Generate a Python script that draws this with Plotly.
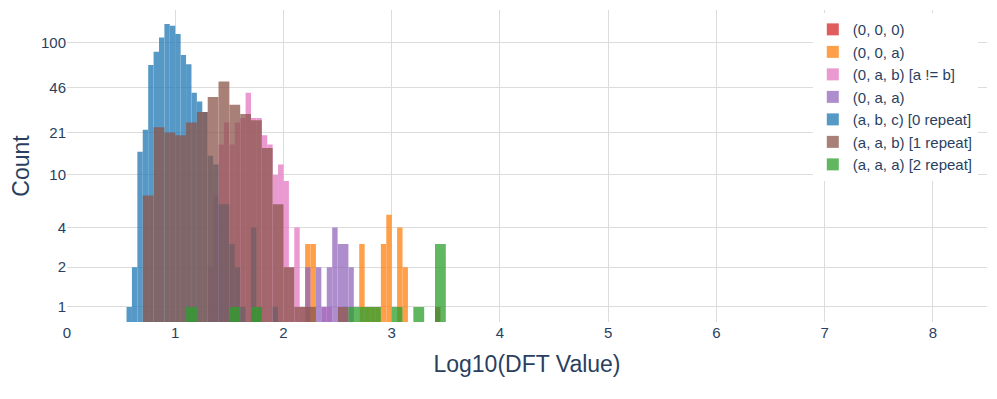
import plotly.graph_objects as go

# Histogram bins: left edge of each bin and its count
zero_zero_zero_bins = [3.40]
zero_zero_zero_counts = [1]

zero_zero_a_bins = [2.20, 2.25, 2.70, 2.75, 2.80, 2.85, 2.90, 2.95, 3.05, 3.10]
zero_zero_a_counts = [3, 3, 3, 1, 1, 1, 3, 5, 4, 2]

zero_a_b_bins = [1.30, 1.35, 1.40, 1.45, 1.50, 1.55, 1.60, 1.65, 1.70, 1.75,
                 1.80, 1.85, 1.90, 1.95, 2.00, 2.05, 2.10, 2.15, 2.35, 2.40]
zero_a_b_counts = [2, 7, 17, 25, 17, 25, 27, 42, 27, 27,
                   20, 17, 10, 12, 9, 2, 4, 1, 1, 1]

zero_a_a_bins = [2.20, 2.30, 2.35, 2.40, 2.45, 2.50, 2.55, 2.60]
zero_a_a_counts = [2, 2, 1, 2, 4, 3, 3, 2]

abc_bins = [0.55, 0.60, 0.65, 0.70, 0.75, 0.80, 0.85, 0.90, 0.95, 1.00,
            1.05, 1.10, 1.15, 1.20, 1.25, 1.30, 1.35, 1.40, 1.45, 1.50,
            1.55, 1.60, 1.70, 1.75, 1.90]
abc_counts = [1, 2, 15, 22, 68, 86, 110, 139, 135, 117,
              81, 69, 42, 36, 30, 14, 12, 6, 6, 3,
              2, 1, 4, 1, 1]

aab_bins = [0.7, 0.8, 0.9, 1.0, 1.1, 1.2, 1.3, 1.4, 1.5, 1.6,
            1.7, 1.8, 1.9, 2.0, 2.1, 2.2, 2.5]
aab_counts = [7, 23, 21, 20, 25, 30, 39, 51, 34, 29,
              26, 16, 6, 2, 1, 1, 1]

aaa_bins = [1.1, 1.5, 1.7, 2.6, 2.7, 2.8, 3.0, 3.2, 3.4]
aaa_counts = [1, 1, 1, 1, 1, 1, 1, 1, 3]

series = [
    ("(0, 0, 0)", zero_zero_zero_bins, zero_zero_zero_counts, 0.05, "#d62728"),
    ("(0, 0, a)", zero_zero_a_bins, zero_zero_a_counts, 0.05, "#ff7f0e"),
    ("(0, a, b) [a != b]", zero_a_b_bins, zero_a_b_counts, 0.05, "#e377c2"),
    ("(0, a, a)", zero_a_a_bins, zero_a_a_counts, 0.05, "#9467bd"),
    ("(a, b, c) [0 repeat]", abc_bins, abc_counts, 0.05, "#1f77b4"),
    ("(a, a, b) [1 repeat]", aab_bins, aab_counts, 0.1, "#8c564b"),
    ("(a, a, a) [2 repeat]", aaa_bins, aaa_counts, 0.1, "#2ca02c"),
]

y_ticks = [1, 2, 4, 10, 21, 46, 100]

fig = go.Figure()
for name, bins, counts, bw, color in series:
    fig.add_trace(go.Bar(
        x=[b + bw / 2 for b in bins],
        y=counts,
        width=bw,
        name=name,
        marker=dict(color=color, line=dict(width=0)),
        opacity=0.75,
    ))

# the page body adds an 8px offset, so the figure is a bit smaller than the window
fig.update_layout(
    template="plotly_white",
    barmode="overlay",
    width=989,
    height=391,
    margin=dict(l=59, r=10, t=2, b=77),
    font=dict(family="Liberation Sans, Arial, sans-serif", size=14, color="#2a3f5f"),
    legend=dict(x=0.99, xanchor="right", y=0.99, yanchor="top",
                bgcolor="white", font=dict(size=15)),
    xaxis=dict(
        range=[0, 8.5],
        tickvals=[0, 1, 2, 3, 4, 5, 6, 7, 8],
        tickfont=dict(size=15),
        title=dict(text="Log10(DFT Value)", font=dict(size=23)),
        gridcolor="#dcdcdc",
        zeroline=False,
    ),
    yaxis=dict(
        type="log",
        range=[-0.114, 2.25],
        tickvals=y_ticks,
        ticktext=[str(v) for v in y_ticks],
        tickfont=dict(size=15),
        title=dict(text="Count", font=dict(size=23), standoff=6),
        gridcolor="#dcdcdc",
        zeroline=False,
    ),
)

fig.write_html("out.html")
